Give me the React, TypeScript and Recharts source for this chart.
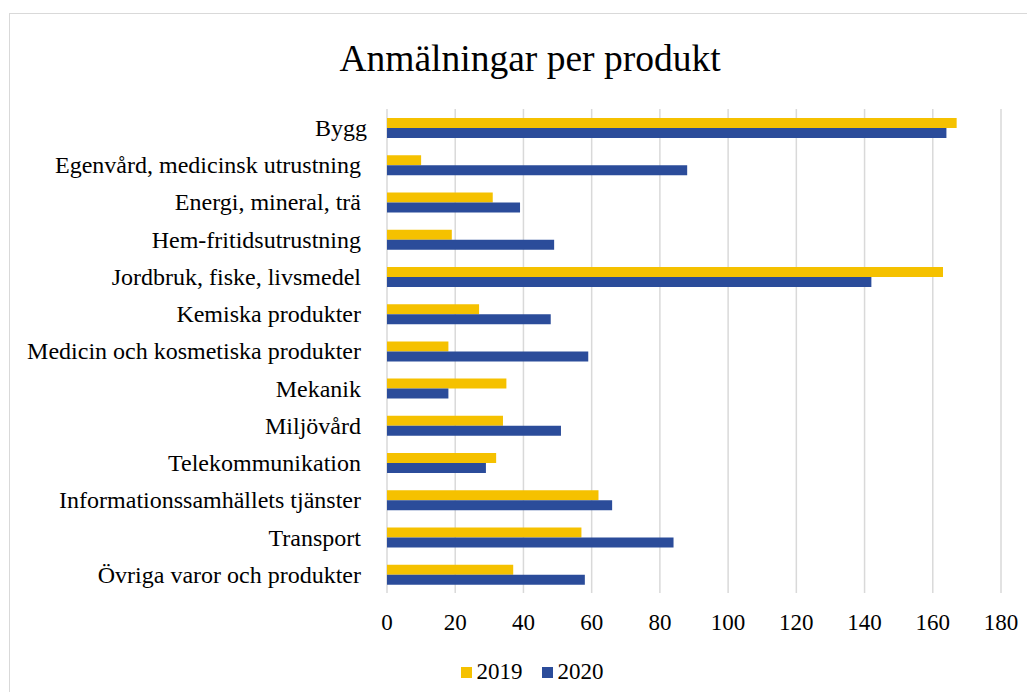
import React from "react";
import { BarChart, Bar, XAxis, YAxis, CartesianGrid, Legend } from "recharts";

const categories = [
  "Bygg",
  "Egenvård, medicinsk utrustning",
  "Energi, mineral, trä",
  "Hem-fritidsutrustning",
  "Jordbruk, fiske, livsmedel",
  "Kemiska produkter",
  "Medicin och kosmetiska produkter",
  "Mekanik",
  "Miljövård",
  "Telekommunikation",
  "Informationssamhällets tjänster",
  "Transport",
  "Övriga varor och produkter",
];
const values2019 = [167, 10, 31, 19, 163, 27, 18, 35, 34, 32, 62, 57, 37];
const values2020 = [164, 88, 39, 49, 142, 48, 59, 18, 51, 29, 66, 84, 58];
const xTicks = [0, 20, 40, 60, 80, 100, 120, 140, 160, 180];
const seriesNames = ["2019", "2020"];
const seriesColors = ["#F5C100", "#2B4C9A"];
const title = "Anmälningar per produkt";

const data = categories.map((name, i) => ({
  name,
  v2019: values2019[i],
  v2020: values2020[i],
}));

const FONT = "'Liberation Serif', 'Times New Roman', serif";

const CategoryTick = (props: any) => {
  const { x, y, payload } = props;
  const dx = payload.value === "Bygg" ? 6 : 0;
  return (
    <text
      x={x + dx}
      y={y}
      dy="0.35em"
      textAnchor="end"
      fill="#000"
      fontSize={24}
      fontFamily={FONT}
    >
      {payload.value}
    </text>
  );
};

const LegendContent = () => (
  <div
    style={{
      display: "flex",
      justifyContent: "center",
      alignItems: "center",
      paddingLeft: 55,
      height: 30,
      fontFamily: FONT,
      fontSize: 23,
      color: "#000",
    }}
  >
    {seriesNames.map((n, i) => (
      <div key={n} style={{ display: "flex", alignItems: "center", marginRight: i === 0 ? 19 : 0 }}>
        <span
          style={{
            display: "inline-block",
            width: 11,
            height: 11,
            background: seriesColors[i],
            marginRight: 5,
          }}
        />
        <span>{n}</span>
      </div>
    ))}
  </div>
);

export default function App() {
  return (
    <div style={{ position: "relative", width: 1019, height: 684, overflow: "hidden", fontFamily: FONT }}>
      <div
        style={{
          position: "absolute",
          left: 1,
          top: 5,
          width: 1100,
          height: 800,
          border: "1px solid #D9D9D9",
          boxSizing: "border-box",
        }}
      />
      <div
        style={{
          position: "absolute",
          left: 0,
          top: 29,
          width: 1044,
          textAlign: "center",
          fontSize: 37.5,
          lineHeight: "44px",
          color: "#000",
          fontFamily: FONT,
        }}
      >
        {title}
      </div>
      <div style={{ position: "absolute", left: 0, top: 0 }}>
        <BarChart
          width={1027}
          height={692}
          layout="vertical"
          data={data}
          margin={{ top: 101, right: 34, left: 0, bottom: 13 }}
          barGap={0}
        >
          <CartesianGrid horizontal={false} stroke="#D9D9D9" strokeWidth={1.5} />
          <XAxis
            type="number"
            domain={[0, 180]}
            ticks={xTicks}
            axisLine={false}
            tickLine={false}
            height={64}
            tickMargin={15}
            tick={{ fontSize: 23, fill: "#000", fontFamily: FONT }}
            interval={0}
          />
          <YAxis
            type="category"
            dataKey="name"
            width={379}
            axisLine={false}
            tickLine={false}
            tickMargin={20}
            interval={0}
            tick={<CategoryTick />}
          />
          <Legend verticalAlign="bottom" content={<LegendContent />} />
          <Bar dataKey="v2019" name={seriesNames[0]} fill={seriesColors[0]} barSize={10} isAnimationActive={false} />
          <Bar dataKey="v2020" name={seriesNames[1]} fill={seriesColors[1]} barSize={10} isAnimationActive={false} />
        </BarChart>
      </div>
    </div>
  );
}
